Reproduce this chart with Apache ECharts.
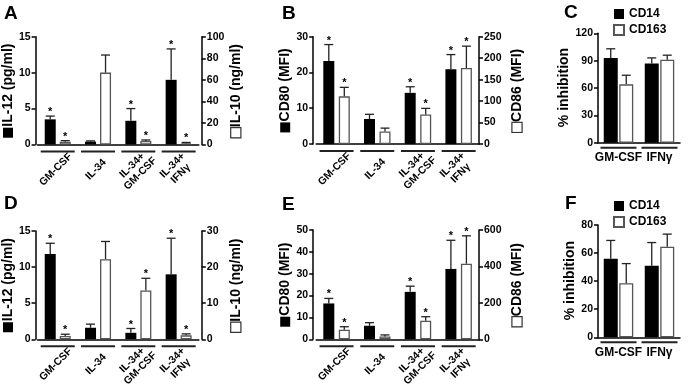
<!DOCTYPE html>
<html>
<head>
<meta charset="utf-8">
<script src="https://cdn.jsdelivr.net/npm/echarts@6/dist/echarts.min.js"></script>
<style>
  html, body { margin: 0; padding: 0; background: #fff; }
  #chart { width: 689px; height: 389px; }
</style>
</head>
<body>
<div id="chart"></div>
<script>
// categories
const groups = ['GM-CSF', 'IL-34', 'IL-34+\nGM-CSF', 'IL-34+\nIFNγ'];
const stimuli = ['GM-CSF', 'IFNγ'];
const groupStars = [1, 0, 1, 1];

// panel A
const aIL12 = [3.5, 0.4, 3.3, 9.0];
const aIL12Err = [3.95, 0.5, 5.0, 13.3];
const aIL10 = [2.6, 66.7, 3.2, 1.2];
const aIL10Err = [3.6, 83, 4.2, 1.9];

// panel B
const bCD80 = [23.2, 7.0, 14.3, 20.9];
const bCD80Err = [27.8, 8.3, 16.0, 25.0];
const bCD86 = [111, 29, 69, 177];
const bCD86Err = [132, 37, 83, 228];

// panel C
const cCD14 = [93, 87];
const cCD14Err = [103, 93];
const cCD163 = [64, 91];
const cCD163Err = [74, 96];

// panel D
const dIL12 = [11.8, 1.6, 0.9, 9.0];
const dIL12Err = [13.3, 2.1, 1.5, 14.0];
const dIL10 = [0.9, 22.2, 13.5, 1.1];
const dIL10Err = [1.4, 27.1, 16.9, 1.5];

// panel E
const eCD80 = [16.4, 6.2, 21.7, 32.2];
const eCD80Err = [18.7, 7.6, 24.3, 45.3];
const eCD86 = [53, 16, 102, 415];
const eCD86Err = [69, 24, 124, 568];

// panel F
const fCD14 = [56, 51];
const fCD14Err = [69, 67.5];
const fCD163 = [38.5, 64.5];
const fCD163Err = [52.5, 73.5];

const FONT = '"Liberation Sans", Arial, Helvetica, sans-serif';

const chart = echarts.init(document.getElementById('chart'));

const grid = [];
const xAxis = [];
const yAxis = [];
const series = [];

const nameRich = {
  fill: { width: 10, height: 10, backgroundColor: '#000' },
  empty: { width: 9, height: 9, backgroundColor: '#fff', borderColor: '#333', borderWidth: 1.2 },
  t: { fontFamily: FONT, fontWeight: 'bold', fontSize: 14, color: '#000', padding: [0, 0, 0, 1] }
};

function valueAxis(gi, pos, ax) {
  const label = ax.box ? '{' + ax.box + '|}{t|' + ax.name + '}' : '{t|' + ax.name + '}';
  return {
    type: 'value',
    gridIndex: gi,
    position: pos,
    min: 0,
    max: ax.max,
    interval: ax.step,
    offset: ax.offset || 0,
    name: label,
    nameLocation: 'middle',
    nameRotate: 90,
    nameGap: ax.gap,
    nameTextStyle: { rich: nameRich },
    axisLine: { show: true, lineStyle: { color: '#000', width: 1.5 } },
    axisTick: { show: true, length: 4, lineStyle: { color: '#000', width: 1.5 } },
    axisLabel: { color: '#000', fontFamily: FONT, fontWeight: 'bold', fontSize: 10.5, margin: 5 },
    splitLine: { show: false }
  };
}

function errSeries(gi, yi, means, tops, stars, off) {
  return {
    type: 'custom',
    name: 'err',
    xAxisIndex: gi,
    yAxisIndex: yi,
    z: 4,
    data: means.map((v, i) => [i, v, tops[i], stars ? stars[i] : 0]),
    renderItem: function (params, api) {
      const base = api.coord([api.value(0), api.value(1)]);
      const top = api.coord([api.value(0), api.value(2)]);
      const cx = base[0] + off;
      const st = { stroke: '#222', lineWidth: 1.3 };
      const children = [
        { type: 'line', shape: { x1: cx, y1: base[1], x2: cx, y2: top[1] }, style: st },
        { type: 'line', shape: { x1: cx - 4.5, y1: top[1], x2: cx + 4.5, y2: top[1] }, style: st }
      ];
      if (api.value(3)) {
        children.push({
          type: 'text',
          style: { text: '*', x: cx, y: top[1] - 4, align: 'center', verticalAlign: 'middle',
                   font: 'bold 11px ' + FONT, fill: '#000' }
        });
      }
      return { type: 'group', children: children };
    }
  };
}

// group underline, plus the tilted category label when the panel uses one
function underline(gi, yi, cats, half, dy, tilted) {
  return {
    type: 'custom',
    name: 'group',
    xAxisIndex: gi,
    yAxisIndex: yi,
    silent: true,
    data: cats.map((c, i) => [i, 0]),
    renderItem: function (params, api) {
      const i = api.value(0);
      const p = api.coord([i, 0]);
      const children = [{
        type: 'line',
        shape: { x1: p[0] - half, y1: p[1] + dy, x2: p[0] + half, y2: p[1] + dy },
        style: { stroke: '#222', lineWidth: 2 }
      }];
      if (tilted) {
        children.push({
          type: 'text',
          x: p[0] - 2,
          y: p[1] + 25,
          rotation: Math.PI / 4,
          style: { text: cats[i], align: 'center', verticalAlign: 'middle', lineHeight: 11.5,
                   font: 'bold 10.5px ' + FONT, fill: '#000' }
        });
      }
      return { type: 'group', children: children };
    }
  };
}

function addPanel(p) {
  const gi = grid.length;
  grid.push({ left: p.left, top: p.top, width: p.width, height: p.height });
  xAxis.push({
    type: 'category',
    gridIndex: gi,
    data: p.cats,
    axisLine: { show: true, lineStyle: { color: '#000', width: 1.5 } },
    axisTick: { show: false },
    axisLabel: { show: !p.tilted, interval: 0, color: '#000', fontFamily: FONT, fontWeight: 'bold',
                 fontSize: 12, margin: 9 }
  });
  const yl = yAxis.length;
  yAxis.push(valueAxis(gi, 'left', p.leftAxis));
  let yr = yl;
  if (p.rightAxis) {
    yr = yAxis.length;
    yAxis.push(valueAxis(gi, 'right', p.rightAxis));
  }
  const off = (p.barWidth + p.gap) / 2;
  const barGap = (p.gap / p.barWidth * 100) + '%';
  series.push({
    type: 'bar', name: p.blackName, xAxisIndex: gi, yAxisIndex: yl, data: p.black,
    barWidth: p.barWidth, barGap: barGap, itemStyle: { color: '#000' }
  });
  series.push({
    type: 'bar', name: p.whiteName, xAxisIndex: gi, yAxisIndex: yr, data: p.white,
    barWidth: p.barWidth, barGap: barGap,
    itemStyle: { color: '#fff', borderColor: '#555', borderWidth: 1.3 }
  });
  series.push(errSeries(gi, yl, p.black, p.blackErr, p.stars, -off));
  series.push(errSeries(gi, yr, p.white, p.whiteErr, p.stars, off));
  series.push(underline(gi, yl, p.cats, p.half, p.lineDy, p.tilted));
}

// A
addPanel({
  left: 35.6, top: 36.7, width: 163.2, height: 107.8, cats: groups, tilted: true,
  barWidth: 11, gap: 4, half: 17, lineDy: 7, stars: groupStars,
  blackName: 'IL-12', black: aIL12, blackErr: aIL12Err,
  whiteName: 'IL-10', white: aIL10, whiteErr: aIL10Err,
  leftAxis: { max: 15, step: 5, offset: 2, name: 'IL-12 (pg/ml)', box: 'fill', gap: 18 },
  rightAxis: { max: 100, step: 20, offset: 3, name: 'IL-10 (ng/ml)', box: 'empty', gap: 27 }
});

// B
addPanel({
  left: 316.2, top: 36.7, width: 162.8, height: 107.3, cats: groups, tilted: true,
  barWidth: 11, gap: 4.5, half: 17, lineDy: 7, stars: groupStars,
  blackName: 'CD80', black: bCD80, blackErr: bCD80Err,
  whiteName: 'CD86', white: bCD86, whiteErr: bCD86Err,
  leftAxis: { max: 30, step: 10, offset: 3, name: 'CD80 (MFI)', box: 'fill', gap: 21 },
  rightAxis: { max: 250, step: 50, offset: 0, name: 'CD86 (MFI)', box: 'empty', gap: 31 }
});

// C
addPanel({
  left: 598, top: 33.3, width: 82, height: 109.4, cats: stimuli, tilted: false,
  barWidth: 14, gap: 1.5, half: 18, lineDy: 5, stars: null,
  blackName: 'CD14', black: cCD14, blackErr: cCD14Err,
  whiteName: 'CD163', white: cCD163, whiteErr: cCD163Err,
  leftAxis: { max: 120, step: 30, name: '% inhibition', gap: 19 }
});

// D
addPanel({
  left: 35.6, top: 231, width: 163.2, height: 108.3, cats: groups, tilted: true,
  barWidth: 11, gap: 4, half: 17, lineDy: 7, stars: groupStars,
  blackName: 'IL-12', black: dIL12, blackErr: dIL12Err,
  whiteName: 'IL-10', white: dIL10, whiteErr: dIL10Err,
  leftAxis: { max: 15, step: 5, offset: 2, name: 'IL-12 (pg/ml)', box: 'fill', gap: 18 },
  rightAxis: { max: 30, step: 10, offset: 3, name: 'IL-10 (ng/ml)', box: 'empty', gap: 27 }
});

// E
addPanel({
  left: 316.2, top: 230, width: 162.8, height: 109.3, cats: groups, tilted: true,
  barWidth: 11, gap: 4.5, half: 17, lineDy: 7, stars: groupStars,
  blackName: 'CD80', black: eCD80, blackErr: eCD80Err,
  whiteName: 'CD86', white: eCD86, whiteErr: eCD86Err,
  leftAxis: { max: 50, step: 10, offset: 3, name: 'CD80 (MFI)', box: 'fill', gap: 21 },
  rightAxis: { max: 600, step: 200, offset: 0, name: 'CD86 (MFI)', box: 'empty', gap: 31 }
});

// F
addPanel({
  left: 598, top: 225, width: 82, height: 112.3, cats: stimuli, tilted: false,
  barWidth: 14, gap: 1.5, half: 18, lineDy: 5, stars: null,
  blackName: 'CD14', black: fCD14, blackErr: fCD14Err,
  whiteName: 'CD163', white: fCD163, whiteErr: fCD163Err,
  leftAxis: { max: 80, step: 20, name: '% inhibition', gap: 19 }
});

const letterStyle = { fontFamily: FONT, fontWeight: 'bold', fontSize: 19, color: '#000' };
const legendBase = {
  orient: 'vertical', left: 608, itemWidth: 10, itemHeight: 10, itemGap: 4, icon: 'rect',
  selectedMode: false, data: ['CD14', 'CD163'],
  textStyle: { fontFamily: FONT, fontWeight: 'bold', fontSize: 12, color: '#000' }
};

chart.setOption({
  animation: false,
  backgroundColor: '#fff',
  title: [
    { text: 'A', left: 4, top: 4, padding: 0, textStyle: letterStyle },
    { text: 'B', left: 282, top: 4, padding: 0, textStyle: letterStyle },
    { text: 'C', left: 564, top: 3, padding: 0, textStyle: letterStyle },
    { text: 'D', left: 4, top: 194, padding: 0, textStyle: letterStyle },
    { text: 'E', left: 282, top: 195, padding: 0, textStyle: letterStyle },
    { text: 'F', left: 565, top: 194, padding: 0, textStyle: letterStyle }
  ],
  legend: [
    Object.assign({}, legendBase, { top: 3 }),
    Object.assign({}, legendBase, { top: 195 })
  ],
  grid: grid,
  xAxis: xAxis,
  yAxis: yAxis,
  series: series
});
</script>
</body>
</html>
